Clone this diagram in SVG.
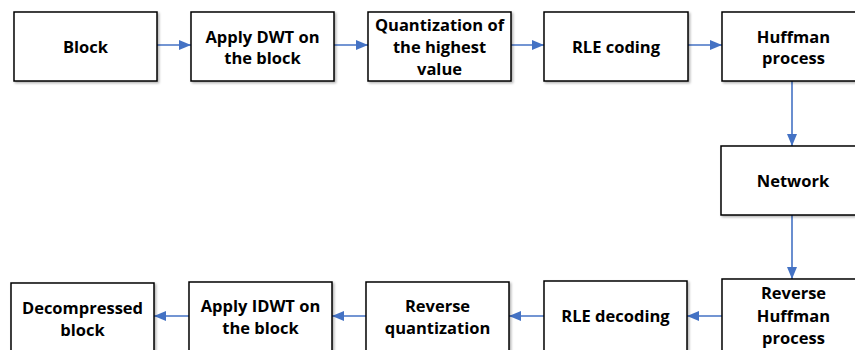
<svg xmlns="http://www.w3.org/2000/svg" width="855" height="350" viewBox="0 0 855 350">
  <defs>
    <marker id="arrow" viewBox="0 0 12 10" refX="12" refY="5" markerWidth="12" markerHeight="10" markerUnits="userSpaceOnUse" orient="auto">
      <path d="M0,0 L12,5 L0,10 z" fill="#4472C4"/>
    </marker>
    <filter id="shadow" x="-10%" y="-10%" width="130%" height="130%">
      <feDropShadow dx="1.5" dy="1.5" stdDeviation="1" flood-color="#000" flood-opacity="0.3"/>
    </filter>
  </defs>
  <style>
    .box { fill: #fff; stroke: #000; stroke-width: 1.5; filter: url(#shadow); }
    .lbl { font-family: "Open Sans", "Liberation Sans", Arial, sans-serif; font-weight: bold; font-size: 16.5px; fill: #000; text-anchor: middle; }
    .conn { stroke: #4472C4; stroke-width: 1.6; fill: none; marker-end: url(#arrow); }
  </style>
  <rect width="855" height="350" fill="#fff"/>

  <g id="connectors">
    <line class="conn" x1="157" y1="45" x2="191" y2="45"/>
    <line class="conn" x1="334" y1="45" x2="368" y2="45"/>
    <line class="conn" x1="511" y1="45" x2="544" y2="45"/>
    <line class="conn" x1="688" y1="45" x2="722" y2="45"/>
    <line class="conn" x1="792" y1="81" x2="792" y2="146"/>
    <line class="conn" x1="792" y1="215" x2="792" y2="279"/>
    <line class="conn" x1="722" y1="316" x2="687" y2="316"/>
    <line class="conn" x1="544" y1="316" x2="509" y2="316"/>
    <line class="conn" x1="366" y1="316" x2="332" y2="316"/>
    <line class="conn" x1="189" y1="316" x2="154" y2="316"/>
  </g>

  <g id="block">
    <rect class="box" x="14" y="12" width="143" height="69"/>
    <text class="lbl" x="85.5" y="53">Block</text>
  </g>
  <g id="apply-dwt">
    <rect class="box" x="191" y="12" width="143" height="69"/>
    <text class="lbl" x="262.5" y="43">Apply DWT on</text>
    <text class="lbl" x="262.5" y="64">the block</text>
  </g>
  <g id="quantization">
    <rect class="box" x="368" y="12" width="143" height="69"/>
    <text class="lbl" x="439.5" y="31">Quantization of</text>
    <text class="lbl" x="439.5" y="53">the highest</text>
    <text class="lbl" x="439.5" y="75">value</text>
  </g>
  <g id="rle-coding">
    <rect class="box" x="544" y="12" width="144" height="69"/>
    <text class="lbl" x="616" y="53">RLE coding</text>
  </g>
  <g id="huffman">
    <rect class="box" x="722" y="12" width="143" height="69"/>
    <text class="lbl" x="793.5" y="43">Huffman</text>
    <text class="lbl" x="793.5" y="64">process</text>
  </g>
  <g id="network">
    <rect class="box" x="721" y="146" width="144" height="69"/>
    <text class="lbl" x="793" y="187">Network</text>
  </g>
  <g id="reverse-huffman">
    <rect class="box" x="722" y="279" width="143" height="72"/>
    <text class="lbl" x="793.5" y="299">Reverse</text>
    <text class="lbl" x="793.5" y="322">Huffman</text>
    <text class="lbl" x="793.5" y="344">process</text>
  </g>
  <g id="rle-decoding">
    <rect class="box" x="544" y="281" width="143" height="72"/>
    <text class="lbl" x="615.5" y="322">RLE decoding</text>
  </g>
  <g id="reverse-quantization">
    <rect class="box" x="366" y="282" width="143" height="72"/>
    <text class="lbl" x="437.5" y="312">Reverse</text>
    <text class="lbl" x="437.5" y="334">quantization</text>
  </g>
  <g id="apply-idwt">
    <rect class="box" x="189" y="282" width="143" height="72"/>
    <text class="lbl" x="260.5" y="312">Apply IDWT on</text>
    <text class="lbl" x="260.5" y="334">the block</text>
  </g>
  <g id="decompressed">
    <rect class="box" x="11" y="283" width="143" height="72"/>
    <text class="lbl" x="82.5" y="314">Decompressed</text>
    <text class="lbl" x="82.5" y="336">block</text>
  </g>
</svg>
